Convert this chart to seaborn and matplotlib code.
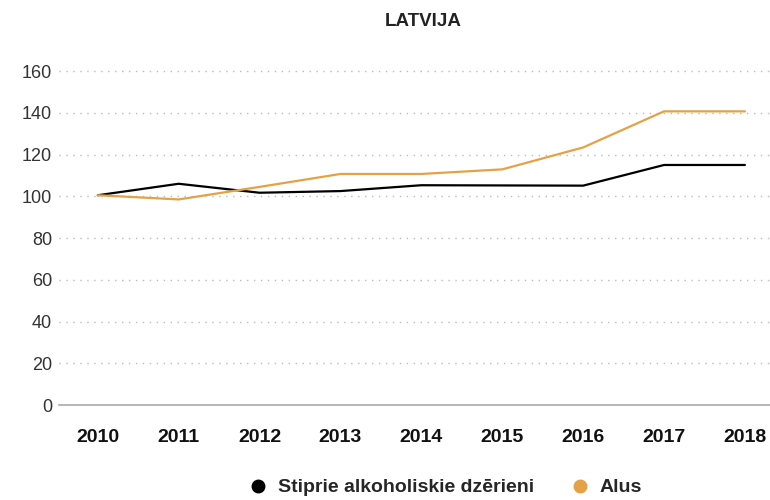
import numpy as np
import pandas as pd
import matplotlib
matplotlib.use("Agg")
import matplotlib.pyplot as plt
import seaborn as sns
from matplotlib.lines import Line2D

years = ["2010", "2011", "2012", "2013", "2014", "2015", "2016", "2017", "2018"]
spirits = [100.5, 106, 101.7, 102.5, 105.3, 105.2, 105.1, 115, 115]
beer = [100.5, 98.5, 104.5, 110.7, 110.7, 112.9, 123.4, 140.7, 140.7]
series_names = ["Stiprie alkoholiskie dzērieni", "Alus"]
colors = ["#000000", "#E5A146"]

sns.set_style("white")
plt.rcParams["font.family"] = ["Liberation Sans", "DejaVu Sans"]

df = pd.DataFrame({
    "year": years * 2,
    "pos": list(range(len(years))) * 2,
    "value": spirits + beer,
    "series": [series_names[0]] * len(years) + [series_names[1]] * len(years),
})

fig = plt.figure(figsize=(7.7, 5), dpi=100)
ax = fig.add_axes([0.0766, 0.19, 0.9234, 0.69])

sns.lineplot(data=df, x="pos", y="value", hue="series", palette=colors,
             linewidth=1.6, legend=False, ax=ax)

ax.set_ylim(0, 165.3)
ax.set_xlim(-0.48, 8.31)
ax.set_yticks(range(0, 161, 20))
ax.set_xticks(range(len(years)))
ax.set_xticklabels(years, fontweight="bold", fontsize=14, color="#111111")
ax.tick_params(axis="y", labelsize=13, labelcolor="#333333", length=0, pad=5)
ax.tick_params(axis="x", length=0, pad=17)
ax.set_xlabel("")
ax.set_ylabel("")

ax.yaxis.grid(True, linestyle=(0, (1, 4)), color="#bbbbbb", linewidth=1)
for s in ["top", "right", "left"]:
    ax.spines[s].set_visible(False)
ax.spines["bottom"].set_color("#aaaaaa")
ax.spines["bottom"].set_linewidth(1.2)
ax.set_axisbelow(True)

fig.text(0.549, 0.956, "LATVIJA", ha="center", va="center",
         fontweight="bold", fontsize=13.5, color="#222222")

handles = [Line2D([], [], marker="o", linestyle="", markersize=9,
                  markerfacecolor=c, markeredgecolor=c) for c in colors]
fig.legend(handles, series_names, loc="center", bbox_to_anchor=(0.572, 0.025),
           ncol=2, frameon=False, handletextpad=0.0, columnspacing=1.4,
           prop={"weight": "bold", "size": 14})

fig.savefig("out.png", dpi=100)
